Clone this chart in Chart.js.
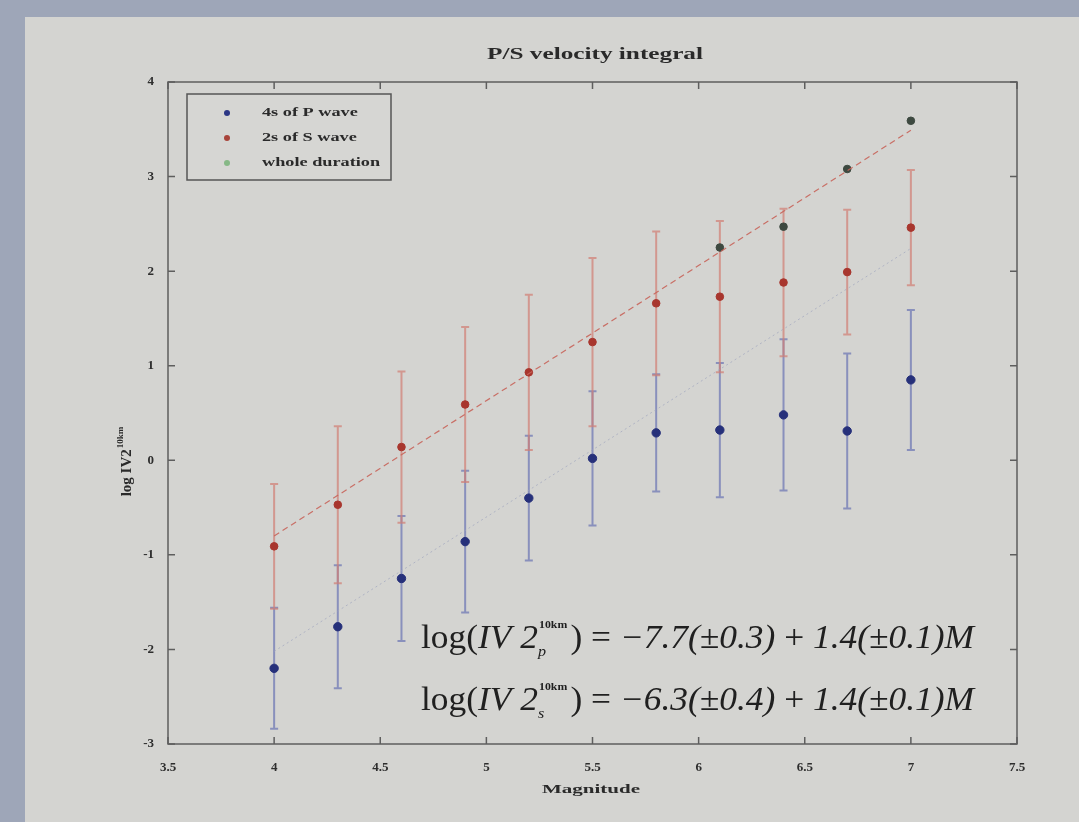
<!DOCTYPE html>
<html>
<head>
<meta charset="utf-8">
<title>P/S velocity integral</title>
<script src="https://cdn.jsdelivr.net/npm/chart.js@4/dist/chart.umd.min.js"></script>
<style>
  html, body { margin: 0; padding: 0; background: #9ea6b8; }
  #wrap { width: 1079px; height: 822px; }
  #myChart { filter: blur(0.7px); }
</style>
</head>
<body>
<div id="wrap"><canvas id="myChart" width="1079" height="822"></canvas></div>
<script>
// data
const magnitudes = [4.0, 4.3, 4.6, 4.9, 5.2, 5.5, 5.8, 6.1, 6.4, 6.7, 7.0];
const pWave = [-2.20, -1.76, -1.25, -0.86, -0.40, 0.02, 0.29, 0.32, 0.48, 0.31, 0.85];
const pErr  = [0.64, 0.65, 0.66, 0.75, 0.66, 0.71, 0.62, 0.71, 0.80, 0.82, 0.74];
const sWave = [-0.91, -0.47, 0.14, 0.59, 0.93, 1.25, 1.66, 1.73, 1.88, 1.99, 2.46];
const sErr  = [0.66, 0.83, 0.80, 0.82, 0.82, 0.89, 0.76, 0.80, 0.78, 0.66, 0.61];
const wholeMag = [6.1, 6.4, 6.7, 7.0];
const wholeDur = [2.25, 2.47, 3.08, 3.59];
const fitMag = [4.0, 7.0];
const fitP = [-2.02, 2.24];
const fitS = [-0.80, 3.49];
const xTicks = [3.5, 4, 4.5, 5, 5.5, 6, 6.5, 7, 7.5];
const yTicks = [-3, -2, -1, 0, 1, 2, 3, 4];
const legendLabels = ['4s of P wave', '2s of S wave', 'whole duration'];

const serif = '"Liberation Serif", "DejaVu Serif", serif';

function pts(xs, ys) {
    return xs.map((x, i) => ({ x: x, y: ys[i] }));
}

// text stretched sideways, the photo of the slide is wider than tall
function wideText(ctx, txt, x, y, sx, align) {
    ctx.save();
    ctx.translate(x, y);
    ctx.scale(sx, 1);
    ctx.textAlign = align || 'left';
    ctx.fillText(txt, 0, 0);
    ctx.restore();
}

// slide background, error bars, axes box, inward ticks, text
const decorPlugin = {
    id: 'decor',
    beforeDraw(chart) {
        const ctx = chart.ctx;
        ctx.save();
        ctx.fillStyle = '#9ea6b8';
        ctx.fillRect(0, 0, chart.width, chart.height);
        ctx.fillStyle = '#d4d4d1';
        ctx.fillRect(25, 17, chart.width - 25, chart.height - 17);
        ctx.restore();
    },
    beforeDatasetsDraw(chart) {
        const ctx = chart.ctx;
        const xs = chart.scales.x, ys = chart.scales.y;
        const bars = [
            { vals: pWave, err: pErr, color: 'rgba(105,115,180,0.7)' },
            { vals: sWave, err: sErr, color: 'rgba(210,125,115,0.7)' }
        ];
        ctx.save();
        ctx.lineWidth = 2;
        bars.forEach(b => {
            ctx.strokeStyle = b.color;
            magnitudes.forEach((m, i) => {
                const px = xs.getPixelForValue(m);
                const top = ys.getPixelForValue(b.vals[i] + b.err[i]);
                const bot = ys.getPixelForValue(b.vals[i] - b.err[i]);
                ctx.beginPath();
                ctx.moveTo(px, top); ctx.lineTo(px, bot);
                ctx.moveTo(px - 4, top); ctx.lineTo(px + 4, top);
                ctx.moveTo(px - 4, bot); ctx.lineTo(px + 4, bot);
                ctx.stroke();
            });
        });
        ctx.restore();
    },
    afterDraw(chart) {
        const ctx = chart.ctx;
        const a = chart.chartArea;
        const xs = chart.scales.x, ys = chart.scales.y;
        ctx.save();
        // box
        ctx.strokeStyle = '#5e5e5e';
        ctx.lineWidth = 1.5;
        ctx.strokeRect(a.left, a.top, a.right - a.left, a.bottom - a.top);
        // ticks pointing in
        ctx.beginPath();
        xTicks.forEach(t => {
            const px = xs.getPixelForValue(t);
            ctx.moveTo(px, a.bottom); ctx.lineTo(px, a.bottom - 7);
            ctx.moveTo(px, a.top); ctx.lineTo(px, a.top + 7);
        });
        yTicks.forEach(t => {
            const py = ys.getPixelForValue(t);
            ctx.moveTo(a.left, py); ctx.lineTo(a.left + 7, py);
            ctx.moveTo(a.right, py); ctx.lineTo(a.right - 7, py);
        });
        ctx.stroke();

        // title and axis labels
        ctx.fillStyle = '#2a2a2a';
        ctx.textBaseline = 'middle';
        ctx.font = 'bold 17px ' + serif;
        wideText(ctx, 'P/S velocity integral', 595, 55,
            216 / ctx.measureText('P/S velocity integral').width, 'center');
        ctx.font = 'bold 13px ' + serif;
        wideText(ctx, 'Magnitude', 591, 790,
            98 / ctx.measureText('Magnitude').width, 'center');

        ctx.save();
        ctx.translate(127, 462);
        ctx.rotate(-Math.PI / 2);
        ctx.font = 'bold 15px ' + serif;
        const main = 'log IV2';
        const w1 = ctx.measureText(main).width;
        ctx.font = 'bold 9px ' + serif;
        const w2 = ctx.measureText('10km').width;
        const start = -(w1 + w2) / 2;
        ctx.textAlign = 'left';
        ctx.font = 'bold 15px ' + serif;
        ctx.fillText(main, start, 0);
        ctx.font = 'bold 9px ' + serif;
        ctx.fillText('10km', start + w1 + 1, -6);
        ctx.restore();

        // legend
        const lx = 187, ly = 94, lw = 204, lh = 86;
        ctx.fillStyle = '#d6d6d3';
        ctx.fillRect(lx, ly, lw, lh);
        ctx.strokeStyle = '#555';
        ctx.lineWidth = 1.5;
        ctx.strokeRect(lx, ly, lw, lh);
        const legendColors = ['#2c3785', '#a8443a', '#86b886'];
        ctx.font = 'bold 12px ' + serif;
        legendLabels.forEach((lab, i) => {
            const y = 113 + i * 25;
            ctx.fillStyle = legendColors[i];
            ctx.beginPath();
            ctx.arc(227, y, 3, 0, Math.PI * 2);
            ctx.fill();
            ctx.fillStyle = '#2a2a2a';
            wideText(ctx, lab, 262, y, 1.52);
        });

        // fit equations
        drawEquation(ctx, 421, 648, 'p', '\u22127.7(\u00b10.3)', '1.4(\u00b10.1)M');
        drawEquation(ctx, 421, 710, 's', '\u22126.3(\u00b10.4)', '1.4(\u00b10.1)M');
        ctx.restore();
    }
};

function drawEquation(ctx, x0, y0, sub, a, b) {
    const big = 33;
    const roman = big + 'px ' + serif;
    const ital = 'italic ' + big + 'px ' + serif;
    const small = 'bold 11px ' + serif;
    const smallIt = 'italic 15px ' + serif;
    const parts = [
        ['log(', roman], ['IV 2', ital], ['SUP'], [') = ', roman],
        [a, ital], [' + ', roman], [b, ital]
    ];
    // width at natural size, then stretch to the picture's width
    let total = 0;
    parts.forEach(p => {
        if (p[0] === 'SUP') { ctx.font = small; total += ctx.measureText('10km').width + 4; }
        else { ctx.font = p[1]; total += ctx.measureText(p[0]).width; }
    });
    const sx = 553 / total;
    ctx.save();
    ctx.translate(x0, y0);
    ctx.scale(sx, 1);
    ctx.fillStyle = '#202020';
    ctx.textAlign = 'left';
    ctx.textBaseline = 'alphabetic';
    let x = 0;
    parts.forEach(p => {
        if (p[0] === 'SUP') {
            ctx.font = small;
            ctx.fillText('10km', x + 1, -20);
            const w = ctx.measureText('10km').width;
            ctx.font = smallIt;
            ctx.fillText(sub, x, 8);
            x += w + 4;
        } else {
            ctx.font = p[1];
            ctx.fillText(p[0], x, 0);
            x += ctx.measureText(p[0]).width;
        }
    });
    ctx.restore();
}

const ctx = document.getElementById('myChart').getContext('2d');
const myChart = new Chart(ctx, {
    type: 'scatter',
    data: {
        datasets: [
            {
                label: 'S fit',
                type: 'line',
                data: pts(fitMag, fitS),
                borderColor: 'rgba(200,100,90,0.9)',
                borderWidth: 1.2,
                borderDash: [6, 4],
                pointRadius: 0,
                fill: false
            },
            {
                label: 'P fit',
                type: 'line',
                data: pts(fitMag, fitP),
                borderColor: 'rgba(160,165,190,0.7)',
                borderWidth: 1,
                borderDash: [2, 3],
                pointRadius: 0,
                fill: false
            },
            {
                label: legendLabels[0],
                data: pts(magnitudes, pWave),
                backgroundColor: '#26307a',
                borderColor: '#26307a',
                pointRadius: 4.2
            },
            {
                label: legendLabels[1],
                data: pts(magnitudes, sWave),
                backgroundColor: '#a8362e',
                borderColor: '#a8362e',
                pointRadius: 3.8
            },
            {
                label: legendLabels[2],
                data: pts(wholeMag, wholeDur),
                backgroundColor: '#3d4940',
                borderColor: '#3d4940',
                pointRadius: 3.8
            }
        ]
    },
    options: {
        responsive: false,
        animation: false,
        layout: { padding: { left: 108, right: 62, top: 82, bottom: 0 } },
        plugins: {
            legend: { display: false },
            title: { display: false },
            tooltip: { enabled: false }
        },
        scales: {
            x: {
                type: 'linear',
                min: 3.5, max: 7.5,
                afterFit(scale) { scale.height = 78; },
                afterBuildTicks(scale) { scale.ticks = xTicks.map(v => ({ value: v })); },
                grid: { display: false },
                border: { display: false },
                ticks: {
                    padding: 8,
                    color: '#2e2e2e',
                    font: { family: serif, size: 13, weight: 'bold' },
                    callback: v => String(v)
                }
            },
            y: {
                type: 'linear',
                min: -3, max: 4,
                afterFit(scale) { scale.width = 60; },
                afterBuildTicks(scale) { scale.ticks = yTicks.map(v => ({ value: v })); },
                grid: { display: false },
                border: { display: false },
                ticks: {
                    padding: 6,
                    color: '#2e2e2e',
                    font: { family: serif, size: 13, weight: 'bold' },
                    callback: v => String(v)
                }
            }
        }
    },
    plugins: [decorPlugin]
});
</script>
</body>
</html>
